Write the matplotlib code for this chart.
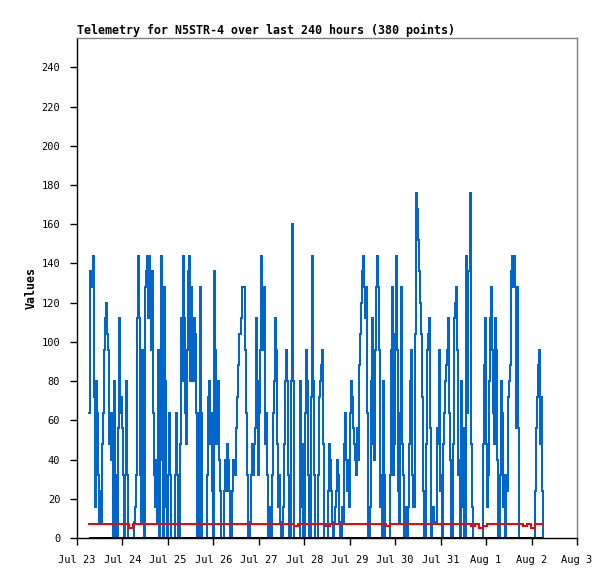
#!/usr/bin/env python3
"""
Telemetry chart for N5STR-4 (last 240 hours)
"""

import numpy as np
import pandas as pd
import matplotlib
matplotlib.use('Agg')
import matplotlib.pyplot as plt
import matplotlib.dates as mdates
from matplotlib.ticker import FuncFormatter

# --- data ---
start_time = "2023-07-23 06:10"
span_hours = 240

# blue series, in time order
values_a = [64, 136, 128, 136, 144, 72, 16, 80, 64, 32, 8, 24, 8, 48, 64, 96, 112, 120, 104, 96,
            48, 64, 40, 64, 0, 80, 0, 32, 0, 56, 112, 64, 72, 56, 32, 0, 32, 80, 32, 0,
            0, 0, 0, 0, 0, 8, 16, 32, 112, 144, 112, 32, 8, 96, 32, 0, 128, 136, 144, 112,
            144, 128, 96, 136, 64, 32, 16, 40, 8, 96, 0, 96, 144, 40, 0]
values_b = [128, 80, 16, 0, 32, 64, 32, 0, 0, 0, 0, 32, 64, 32, 0, 0, 48, 112, 80, 144,
            112, 64, 48, 96, 136, 144, 80, 128, 104, 80, 112, 104, 64, 0, 64, 0, 128, 64, 0, 0,
            0, 0, 0, 32, 72, 80, 48, 64, 24, 0, 136, 96, 48, 72, 80, 40, 24, 0, 0, 0,
            24, 40, 24, 48, 40, 24, 0, 0, 24, 40, 32, 56, 72, 88, 104]
values_c = [104, 112, 128, 128, 128, 96, 64, 32, 0, 0, 8, 32, 48, 32, 48, 56, 112, 80, 32, 64,
            96, 144, 96, 120, 128, 48, 64, 32, 0, 16, 8, 0, 32, 64, 80, 112, 96, 48, 16, 32,
            8, 0, 0, 16, 48, 80, 96, 80, 32, 0, 0, 80, 160, 80, 0, 0, 0, 0, 0, 0,
            80, 16, 48, 0, 0, 64, 96, 80, 32, 0, 0, 72, 144, 80, 32, 0]
values_d = [0, 0, 32, 72, 80, 88, 96, 48, 0, 0, 0, 0, 24, 48, 40, 24, 8, 0, 8, 16,
            24, 40, 32, 8, 0, 0, 16, 8, 48, 64, 40, 24, 40, 16, 64, 80, 72, 56, 48, 40,
            32, 56, 40, 88, 104, 120, 136, 144, 128, 112, 128, 64, 0, 0, 16, 80, 112, 48, 40, 96,
            128, 144, 128, 96, 16, 32, 0, 80, 32, 0, 0, 0, 0, 0, 32, 96]
values_e = [128, 32, 48, 104, 144, 96, 24, 8, 64, 128, 48, 32, 0, 16, 0, 0, 16, 48, 80, 96,
            32, 16, 104, 176, 168, 152, 136, 120, 104, 72, 24, 0, 0, 48, 96, 104, 112, 56, 0, 8,
            16, 8, 8, 8, 56, 48, 96, 24, 32, 0, 48, 64, 80, 88, 96, 112, 64, 40, 0, 0,
            48, 112, 120, 128, 96, 32, 40, 0, 80, 16, 56, 0, 0, 144, 64, 136]
values_f = [136, 176, 48, 16, 0, 0, 0, 0, 0, 0, 0, 0, 0, 0, 48, 88, 112, 48, 16, 32,
            80, 112, 128, 96, 64, 48, 112, 96, 40, 0, 0, 32, 80, 64, 16, 32, 0, 32, 24, 72,
            80, 88, 136, 144, 128, 144, 128, 56, 128, 56, 0, 0, 0, 0, 0, 0, 0, 0, 0, 0,
            0, 0, 0, 0, 0, 0, 24, 56, 72, 88, 96, 48, 72, 24, 0]

# red series (lower trace), same time span
red_values = [7, 7, 7, 7, 7, 7, 7, 7, 7, 7, 5, 7, 7, 7, 7, 7, 7, 7, 7,
              7, 7, 7, 7, 7, 7, 7, 7, 7, 7, 7, 7, 7, 7, 7, 7, 7, 7, 7,
              7, 7, 7, 7, 7, 7, 7, 7, 7, 7, 7, 7, 7, 6, 7, 7, 7, 7, 7,
              7, 7, 6, 7, 7, 7, 7, 7, 7, 7, 7, 7, 7, 7, 7, 7, 7, 6, 7,
              7, 7, 7, 7, 7, 7, 7, 7, 7, 7, 7, 7, 7, 7, 7, 7, 7, 7, 7,
              6, 7, 5, 6, 7, 7, 7, 7, 7, 7, 7, 7, 7, 6, 7, 5, 7, 7, 7]

y_ticks = list(range(0, 241, 20))

blue_values = values_a + values_b + values_c + values_d + values_e + values_f


def generate_plot():
    t0 = pd.Timestamp(start_time)
    t1 = t0 + pd.Timedelta(hours=span_hours)
    blue_times = pd.date_range(t0, t1, periods=len(blue_values))
    red_times = pd.date_range(t0, t1, periods=len(red_values))

    fig = plt.figure(figsize=(6.15, 5.79), dpi=100)
    ax = fig.add_axes([77 / 615, 41 / 579, 500 / 615, 500 / 579])

    ax.plot(blue_times, blue_values, color='#0066cc', linewidth=1.44,
            drawstyle='steps-post', antialiased=False, zorder=2)
    ax.plot(red_times, red_values, color='#ff0000', linewidth=1.44,
            drawstyle='steps-post', antialiased=False, zorder=3)
    ax.hlines(0, blue_times[0], blue_times[-1], color='black', linewidth=1.44,
              antialiased=False, zorder=4)

    ax.set_xlim(pd.Timestamp("2023-07-23"), pd.Timestamp("2023-08-03"))
    ax.set_ylim(0, 255)
    ax.set_yticks(y_ticks)

    ax.xaxis.set_major_locator(mdates.DayLocator())
    ax.xaxis.set_major_formatter(FuncFormatter(
        lambda v, pos: "{:%b} {}".format(mdates.num2date(v), mdates.num2date(v).day)))

    mono = 'DejaVu Sans Mono'
    for lab in ax.get_xticklabels() + ax.get_yticklabels():
        lab.set_family(mono)
        lab.set_fontsize(7.5)

    ax.tick_params(axis='both', direction='out', length=5, width=1, color='black')
    ax.tick_params(axis='y', pad=7)
    ax.tick_params(axis='x', pad=7)

    for side in ('top', 'right'):
        ax.spines[side].set_color('#808080')
        ax.spines[side].set_linewidth(1)
    for side in ('left', 'bottom'):
        ax.spines[side].set_color('black')
        ax.spines[side].set_linewidth(1)

    ax.set_title("Telemetry for N5STR-4 over last 240 hours (380 points)",
                 loc='left', fontsize=8.4, fontweight='bold', family=mono, pad=3)
    ax.set_ylabel("Values", fontsize=8.4, fontweight='bold', family=mono, labelpad=3)

    fig.savefig("out.png", dpi=100, facecolor='white')
    plt.close(fig)


if __name__ == "__main__":
    generate_plot()
